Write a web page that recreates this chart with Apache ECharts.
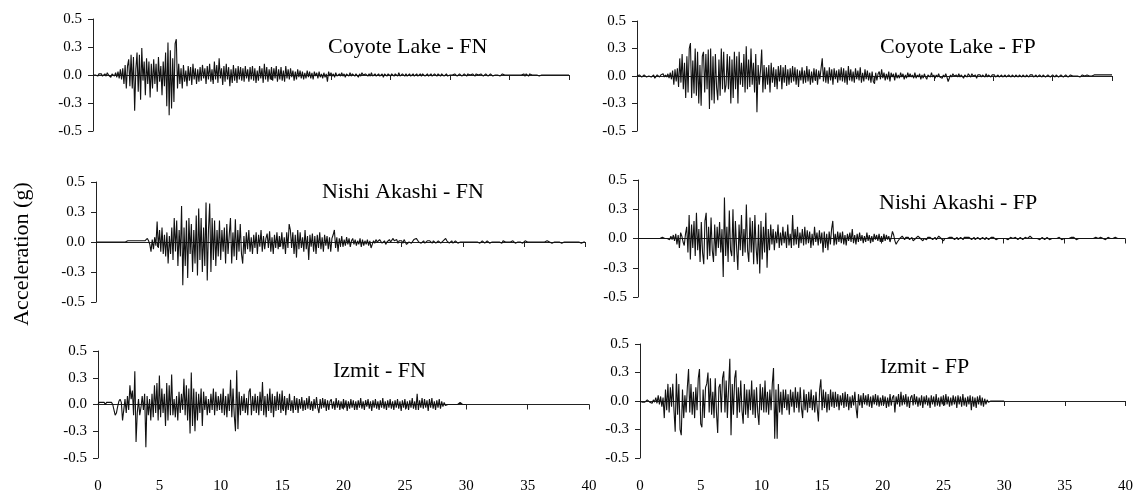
<!DOCTYPE html>
<html>
<head>
<meta charset="utf-8">
<script src="https://cdn.jsdelivr.net/npm/echarts@6/dist/echarts.min.js"></script>
<style>
    html, body { margin: 0; padding: 0; background: #fff; }
    #chart { width: 1136px; height: 494px; }
</style>
</head>
<body>
<div id="chart"></div>
<script>
// time step of the records (s), values are in hundredths of g
var timeStep = 0.1;

var titles = ['Coyote Lake - FN', 'Coyote Lake - FP', 'Nishi Akashi - FN', 'Nishi Akashi - FP', 'Izmit - FN', 'Izmit - FP'];
var yAxisTitle = 'Acceleration (g)';
var xTickValues = [0, 5, 10, 15, 20, 25, 30, 35, 40];
var yTickValues = [-0.5, -0.25, 0, 0.25, 0.5];
var yTickLabels = ['-0.5', '-0.3', '0.0', '0.3', '0.5'];

var coyoteFN = [
    0, 1, 0, 1, -1, 1, 0, 1, -1, 0,
    1, -1, 2, 0, 1, -2, 1, 2, -1, 2,
    -2, 3, -3, 5, -4, 6, -8, 9, -12, 8,
    14, -10, 18, -12, 16, -32, 5, 20, -15, 18,
    -22, 24, -5, 12, -18, 15, -8, 12, -20, 10,
    -12, 14, -8, 10, -15, 16, -6, 8, -18, 12,
    -10, 20, -28, 29, -36, 22, -30, 15, -24, 28,
    32, -12, 10, -8, 6, -12, 9, -6, 4, -10,
    8, -5, 7, -9, 10, -4, 6, -8, 5, -6,
    7, -5, 9, -3, 6, -8, 8, -4, 10, -6,
    5, -8, 12, -4, 9, -7, 15, -3, 6, -9,
    8, -6, 10, -4, 7, -10, 5, -7, 9, -5,
    6, -7, 8, -4, 7, -5, 6, -6, 8, -3,
    5, -6, 7, -4, 8, -5, 6, -7, 4, -5,
    8, -3, 6, -7, 10, -4, 7, -6, 5, -4,
    7, -5, 6, -3, 8, -6, 5, -4, 7, -5,
    4, -6, 8, -3, 5, -4, 6, -2, 4, -5,
    3, -4, 5, -2, 4, -3, 3, -4, 2, -3,
    4, -2, 3, -3, 2, -4, 3, -1, 2, -3,
    3, -2, 1, -3, 2, -2, 1, -6, 3, -1,
    2, -1, 1, -2, 2, -1, 0, 1, -1, 2,
    -1, 1, -2, 1, 0, -1, 2, -1, 1, 0,
    -1, 1, 0, -2, 1, -1, 2, 0, -1, 1,
    0, -1, 1, -1, 2, -1, 0, 1, -1, 0,
    1, -1, 0, 1, -2, 1, 0, -1, 1, 0,
    -1, 1, 0, -1, 1, 0, -1, 2, -1, 0,
    1, 0, -1, 1, -1, 0, 1, -1, 0, 1,
    -1, 0, 1, -1, 0, 1, -1, 1, 0, -1,
    0, 1, -1, 0, 1, -1, 0, 1, 0, -1,
    1, 0, -1, 1, 0, -1, 0, 1, -1, 0,
    0, 1, 0, -1, 1, 0, -1, 0, 1, 0,
    -1, 0, 1, 0, -1, 1, 0, 0, -1, 1,
    0, -1, 1, 0, 0, -1, 1, 0, -1, 0,
    1, 0, -1, 0, 1, 0, -1, 0, 0, 1,
    0, 0, -1, 0, 1, 0, 0, -1, 0, 1,
    0, 0, 0, 0, 0, 0, 0, 0, 0, 0,
    0, 0, 1, -1, 1, 0, -1, 1, 0, 0,
    0, 0, 1, 0, 0, -1, 0, 0, 0, 0,
    0, 0, 0, 0, 0, 0, 0, 0, 0, 0,
    0, 0, 0, 0, 0, 0, 0, 0, 0, 0,
    0
];

var coyoteFP = [
    0, 0, 1, 0, -1, 0, 1, 0, -1, -1,
    0, 1, -1, 0, 1, -2, -1, 1, 0, -1,
    1, 0, 2, -1, 1, -1, 2, -2, 3, -3,
    5, -8, 6, -5, 7, -10, 16, -6, 20, -12,
    12, -20, 18, -15, 25, 30, -20, 14, -16, 25,
    -18, 22, -25, 10, -27, 18, 22, -15, 20, -12,
    24, -30, 25, -22, 18, -25, 20, -10, -22, 15,
    -18, 25, -12, 22, -15, -8, 20, -12, 18, -25,
    15, -20, 22, -12, 18, -25, 22, -8, 12, -10,
    20, -15, 27, -12, 15, -10, 25, -8, 12, -15,
    20, -33, 10, -8, 5, 24, -15, 10, -12, 8,
    -8, 10, -15, 12, -6, 8, -10, 6, -12, 9,
    -5, 10, -12, 8, -6, 10, -9, 6, -8, 7,
    -6, 9, -5, 8, -8, 6, -10, 5, -4, 8,
    -7, 5, -6, 9, -5, 6, -8, 4, -6, 7,
    -4, 6, -8, 5, -3, 7, 16, -5, 8, -6,
    5, -7, 8, -4, 6, -8, 7, -3, 5, -6,
    6, -4, 8, -5, 7, -6, 5, -8, 9, -4,
    6, -5, 4, -6, 7, -3, 5, -4, 8, -6,
    3, -5, 6, -3, 5, -4, 3, -6, 4, -5,
    -7, 3, -4, 2, 4, -3, 6, -2, 3, -4,
    2, -3, 4, -5, 3, -1, 2, -4, 3, -2,
    1, -2, 3, -1, 2, -3, 1, -2, 3, -1,
    2, -1, 1, -2, 3, -2, 1, -1, 2, -3,
    1, -2, 2, -1, -3, 1, 2, -1, 3, -1,
    1, -2, 1, -1, 2, -1, 0, -2, 1, -1,
    2, -1, -5, -2, 1, -1, 2, 0, -1, 1,
    -1, 2, -1, 1, 2, -2, 1, 0, -1, 2,
    1, -1, 2, 0, -1, 1, -2, 1, 0, 1,
    -1, 1, 0, -1, 2, -1, 1, 0, -1, 1,
    0, 1, -1, 0, 1, -1, 0, 1, -1, 0,
    1, -1, 0, 1, 0, -1, 1, 0, -1, 1,
    0, -1, 1, 0, -1, 1, 0, -1, 1, 0,
    -1, 1, 0, 1, -1, 0, 1, -1, 0, 1,
    0, -1, 1, 0, -1, 0, 1, 0, -1, 0,
    1, 0, -1, 1, 0, -1, 0, 1, 0, -1,
    0, 1, 0, -1, 0, 1, 0, 0, -1, 0,
    1, 0, 0, -1, 0, 1, 0, 0, 0, 1,
    0, 0, 1, 0, 0, 1, 0, 1, 0, 1,
    1, 1, 0, 1, 1, 1, 1, 1, 1, 1,
    1
];

var nishiFN = [
    0, 0, 0, 0, 0, 0, 0, 0, 0, 0,
    0, 0, 0, 0, 0, 0, 0, 0, 0, 0,
    0, 0, 0, 0, 0, 0, 1, 1, 1, 1,
    1, 1, 1, 1, 1, 1, 1, 1, 1, 1,
    1, 2, 3, 1, -2, -8, 2, -6, 4, -3,
    17, -5, 10, -8, 12, -10, 6, -12, 8, -18,
    5, -10, 12, -15, 20, -8, 18, -20, 10, -12,
    30, -36, 12, -20, 18, -30, 20, -10, 15, -25,
    10, -18, 22, -28, 28, -15, 20, -25, 12, -20,
    33, -32, 10, 32, -25, 20, -15, 18, -20, 10,
    -12, 18, -15, 10, -8, 12, -18, 15, -10, 6,
    20, -18, 8, -12, 19, -15, 10, -8, 15, -10,
    -18, 5, -10, 8, -6, 10, -8, 4, -10, 6,
    -5, 8, -10, 6, -4, 10, -8, 5, -6, 3,
    7, -5, 9, -8, 4, -10, 6, -5, 8, -6,
    5, -4, 8, -6, 4, -10, 8, -5, 15, 10,
    -5, 8, -10, 6, -13, 10, -6, 8, -5, 4,
    -8, 10, -6, 5, -15, 6, -4, 7, -8, 5,
    -10, 6, -5, 8, -6, 4, -8, 6, -3, 5,
    -6, 4, -8, 3, 6, 10, -5, 4, -8, 3,
    -3, 5, -4, 2, -3, 4, -2, 3, -4, 1,
    3, -2, 2, -3, 1, -2, 3, -4, 2, -3,
    1, -2, 2, -3, 1, -5, -2, 1, -1, 2,
    0, -1, 2, 1, -1, 0, 1, -2, 0, 1,
    2, 0, 1, 3, 1, 0, 2, -1, 1, 0,
    1, -1, 2, 0, -2, -1, 0, 1, -1, 0,
    2, 1, 3, 2, 0, 1, -1, 0, 1, -1,
    0, 1, 2, 1, 0, -1, 1, 0, -1, 0,
    1, 0, -1, 0, 1, 2, 3, 1, 0, -1,
    0, 1, -1, 0, 1, 0, -1, -1, 0, 1,
    0, -1, 0, 1, 0, -1, 0, 1, 0, -1,
    0, 1, 0, 0, -1, 0, 1, 0, -1, 0,
    1, 0, -1, 0, 0, 1, 0, -1, 0, 1,
    0, 0, -1, 1, 0, 0, -1, 0, 1, 0,
    0, 1, 0, -1, 0, 0, 1, 0, 0, -1,
    0, 1, 0, 0, -1, 0, 1, 0, 0, 0,
    -1, 0, 1, 0, 0, 0, -1, 0, 0, 1,
    0, 0, 0, -1, 0, 0, 1, 0, 0, 0,
    0, -1, 0, 0, 1, 0, 0, 0, -1, 0,
    0, 0, 1, 0, 0, 0, 0, -1, 0, 0,
    0
];

var nishiFP = [
    0, 0, 0, 0, 0, 0, 0, 0, 0, 0,
    0, 0, 0, 0, 0, 0, 0, 0, 0, 0,
    1, 1, 0, 1, 0, 1, -1, 2, -1, 3,
    -2, 4, -5, 3, -8, 5, 2, -3, -6, 4,
    10, -12, 20, -18, 12, -8, 15, -15, 22, -10,
    8, -20, 14, -12, -22, 15, 22, -18, 10, -15,
    18, -10, -20, 12, -15, 10, -8, 14, -12, 8,
    -33, 35, -15, 10, -20, 24, -10, -15, 25, -20,
    15, -8, -27, 12, -10, 20, -15, 8, -12, 29,
    -10, -20, 18, -12, 15, -22, 20, -8, -22, 12,
    -30, 15, -18, 10, -12, 22, -25, 8, -10, 12,
    -5, 8, -10, 6, -4, 12, -8, 5, -6, 10,
    -4, 6, -8, 12, -6, 4, -8, 20, -6, 8,
    -5, 10, -8, 5, -4, 8, -6, 10, -5, 7,
    -4, 6, -8, 4, -6, 10, -3, 5, -6, 7,
    -4, 5, -12, 6, -8, 4, -10, 6, -5, 8,
    15, -6, 4, -5, 6, -3, 5, -4, 6, -5,
    3, -6, 4, -2, 5, -3, 8, -4, 3, -5,
    4, -3, 5, -2, 3, -4, 2, -3, 5, -2,
    3, -4, 2, -3, 4, -1, 3, -2, 4, -3,
    2, -3, 4, -2, 3, -1, 2, -3, 1, 6,
    3, -2, -5, -3, -2, 0, 1, 2, 1, -1,
    1, 2, 1, -1, 0, 1, -2, -1, 0, 1,
    2, 1, 0, -1, -2, 0, 1, -1, 1, 2,
    1, 0, -1, 0, 1, -1, 0, 2, 1, 0,
    -1, -2, 0, 1, 0, -1, 1, 2, 1, 0,
    -1, 0, 1, -1, 0, 1, 0, -1, 1, 0,
    1, 2, 1, 0, -1, 0, 1, -1, 0, 1,
    0, -1, 0, 1, 0, -1, 1, 0, -1, 0,
    1, 2, 1, 0, -1, -1, 0, 1, 0, -1,
    0, 1, 0, -1, -1, 0, 1, 0, 0, -1,
    1, 0, -1, 0, 1, 0, -1, 0, 1, 0,
    0, 1, 2, 1, 0, -1, 0, 1, 0, -1,
    -1, 0, 1, 0, -1, 0, 1, 0, -1, 0,
    0, 1, 0, -1, 0, 1, 1, 0, -1, 0,
    0, -1, 0, 1, 0, 0, 1, 2, 1, 0,
    -1, 0, 0, 1, 0, -1, 0, 1, 0, 0,
    0, 1, 0, -1, 0, 0, 1, 0, 0, 0,
    1, 0, 0, 0, -1, 0, 1, 0, 0, 0,
    0, 0, 1, 0, 0, 0, 0, 0, 0, 0,
    0
];

var izmitFN = [
    0, 2, 1, 2, 1, 2, 0, 2, 1, 2,
    1, 2, 0, -5, -10, -8, -2, 3, 5, 2,
    -15, -5, 5, -8, 8, -5, 18, 5, 13, -10,
    31, -35, -8, 5, -10, -3, 8, -5, 10, -40,
    8, -10, 5, -15, 10, -12, 18, -8, 20, -15,
    27, -12, 15, -8, 10, -20, 20, -15, 18, -10,
    28, -10, 5, -12, 8, -15, 12, -8, 10, -5,
    24, -10, 18, -15, 15, -27, 30, -20, 15, -25,
    12, -15, 10, -8, 15, -20, 12, -5, 8, -10,
    5, -8, 10, -5, 15, -10, 12, -6, 8, -5,
    10, -8, 15, -10, 8, -12, 10, -6, 23, -12,
    15, -10, -25, 32, -23, 12, -10, 8, -6, 10,
    -8, 6, -10, 12, 15, -10, 8, -6, 10, -8,
    8, -10, 12, -6, 21, -10, 8, -12, 10, -6,
    15, -8, 10, -12, 8, -6, 12, -5, 10, -8,
    13, -6, 8, -10, 6, -5, 10, -6, 4, -8,
    8, -5, 6, -8, 5, -4, 7, -6, 4, -5,
    6, -4, 8, -5, 3, -6, 5, -4, 7, -3,
    -8, 5, -4, 6, -3, 5, -6, 4, -5, 3,
    5, -4, 3, -5, 6, -3, 4, -5, 3, -4,
    5, -3, 4, -6, 3, -4, 5, -3, 4, -5,
    3, -5, 4, -3, 6, -4, 3, -5, 4, -2,
    5, -4, 3, -6, 4, -3, 5, -4, 3, -5,
    4, -3, 6, -4, 3, -5, 4, -3, 5, -4,
    3, -5, 4, -3, 5, -4, 3, -6, 4, -3,
    5, -4, 3, -5, 4, -3, 6, -4, 3, -5,
    10, -5, 4, -3, 6, -4, 5, -3, 4, -6,
    5, -3, 6, -4, 3, -5, 4, -3, 5, -4,
    3, -2, 2, -1, 0, 0, 0, 0, 0, 0,
    0, 0, 0, 0, 0, 2, 2, 0, 0, 0,
    0
];

var izmitFP = [
    0, 0, -1, 0, -1, 0, 1, 0, -1, -1,
    -2, 1, -1, 3, -2, 5, -3, 4, -5, 3,
    -15, 10, -8, 15, -10, 12, -5, 15, -8, -27,
    24, -12, 15, -25, -30, 10, -15, 5, -10, 12,
    28, -10, 15, -12, 8, -15, 12, -8, 20, 28,
    -20, -23, 10, -15, 12, 15, 25, -10, 20, -12,
    8, -15, 20, -10, -28, 12, 15, -10, 20, 26,
    -10, 18, -15, 12, 37, -30, 15, -12, 20, 27,
    -15, 12, -10, 18, -8, -20, 15, -12, 10, -15,
    10, -8, 18, -12, 10, -15, 12, -10, -21, 15,
    -8, 12, -10, 18, -10, 8, -12, 10, -8, 15,
    29, -33, 10, -33, 15, -10, 8, -12, 10, -6,
    10, -8, 6, -12, 10, -5, 8, -10, 12, -6,
    8, -10, 12, -6, -15, 10, -8, 6, -10, 8,
    -6, 10, -8, 5, -10, 8, -6, -18, 10, 19,
    -8, 10, -6, 8, -10, 6, -8, 10, -5, 8,
    -6, 8, -5, 6, -8, 5, -4, 7, -6, 8,
    -5, 6, -8, 4, -6, 5, -4, 8, -6, -15,
    6, -4, 5, -6, 7, -3, 5, -4, 6, -5,
    4, -6, 5, -3, 6, -4, 5, -5, 3, -4,
    5, -3, 4, -6, 3, -5, 6, -4, 3, 5,
    -10, 4, -3, 6, -5, 8, -4, 5, -3, 6,
    -5, 4, -6, 3, 5, -4, 6, -3, 4, -5,
    3, -4, 5, -6, 4, -3, 5, -4, 3, -6,
    5, -3, 4, -5, 6, -4, 3, -5, 4, -3,
    5, -4, 6, -3, 4, -5, 3, -4, 5, -3,
    4, -6, 5, -3, 4, -5, 6, -4, 3, -5,
    4, -3, 5, -8, 4, -5, 3, -6, 4, -3,
    5, -4, 3, -5, 2, -3, 1, -1, 0, 0,
    0, 0, 0, 0, 0, 0, 0, 0, 0, 0,
    0
];

(function () {
    "use strict";

    var records = [coyoteFN, coyoteFP, nishiFN, nishiFP, izmitFN, izmitFP],
        // plot boxes of the six panels [left, top, width, height]
        boxes = [
            [93, 19, 476, 112],
            [637, 21, 475, 110],
            [96, 182, 489, 120],
            [638, 180, 487, 117],
            [98, 351, 491, 110],
            [640, 344, 486, 117]
        ],
        // title anchors [left, top]
        titlePos = [
            [328, 36], [880, 36], [322, 181], [879, 192], [333, 360], [880, 356]
        ],
        font = 'Liberation Serif',
        grid = [], xAxis = [], yAxis = [], series = [], title = [],
        i, j, data, box;

    var toSeries = function (values) {
        var out = [], k;
        for (k = 0; k < values.length; k++) {
            out.push([+(k * timeStep).toFixed(2), values[k] / 100]);
        }
        return out;
    };

    var yLabel = function (v) {
        for (j = 0; j < yTickValues.length; j++) {
            if (Math.abs(yTickValues[j] - v) < 1e-6) {
                return yTickLabels[j];
            }
        }
        return '';
    };

    for (i = 0; i < records.length; i++) {
        box = boxes[i];
        data = toSeries(records[i]);

        grid.push({left: box[0], top: box[1], width: box[2], height: box[3]});

        xAxis.push({
            type: 'value', gridIndex: i,
            min: xTickValues[0], max: xTickValues[xTickValues.length - 1], interval: 5,
            axisLine: {lineStyle: {color: '#222', width: 1}},
            axisTick: {show: true, inside: false, length: 5, lineStyle: {color: '#222'}},
            axisLabel: {
                show: i >= 4, margin: 21, color: '#000',
                fontFamily: font, fontSize: 15
            },
            splitLine: {show: false}
        });

        yAxis.push({
            type: 'value', gridIndex: i,
            min: -0.5, max: 0.5, interval: 0.25,
            axisLine: {show: true, lineStyle: {color: '#222', width: 1}},
            axisTick: {show: true, inside: false, length: 5, lineStyle: {color: '#222'}},
            axisLabel: {
                margin: 11, color: '#000',
                fontFamily: font, fontSize: 15,
                formatter: yLabel
            },
            splitLine: {show: false}
        });

        series.push({
            type: 'line', xAxisIndex: i, yAxisIndex: i,
            data: data, showSymbol: false, symbol: 'none',
            lineStyle: {color: '#111', width: 1.1},
            silent: true
        });

        title.push({
            text: titles[i], left: titlePos[i][0], top: titlePos[i][1],
            padding: 0,
            textStyle: {fontFamily: font, fontSize: 22, fontWeight: 'normal', color: '#000'}
        });
    }

    var myChart = echarts.init(document.getElementById('chart'), null, {renderer: 'canvas'});
    myChart.setOption({
        animation: false,
        backgroundColor: '#fff',
        title: title,
        grid: grid,
        xAxis: xAxis,
        yAxis: yAxis,
        series: series,
        graphic: [{
            type: 'text', x: 22, y: 254, rotation: Math.PI / 2,
            style: {
                text: yAxisTitle, fill: '#000',
                font: '22px "Liberation Serif"',
                textAlign: 'center', textVerticalAlign: 'middle'
            }
        }]
    });
})();
</script>
</body>
</html>
